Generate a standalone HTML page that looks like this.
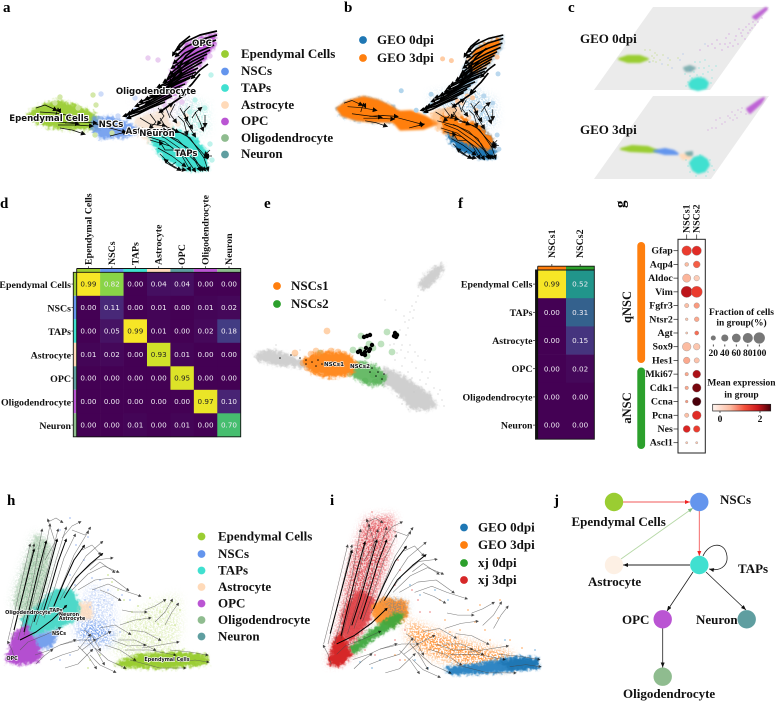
<!DOCTYPE html>
<html lang="en">
<head>
<meta charset="utf-8">
<title>Single-cell trajectory figure</title>
<style>
html,body{margin:0;padding:0;background:#fff;width:777px;height:702px;overflow:hidden}
svg{display:block;filter:blur(.35px)}
text{font-family:"Liberation Serif",serif;font-weight:bold;fill:#111}
.panel{font-size:15px;fill:#000}
.leg{font-size:13px}
.tick{font-size:9.9px}
.small{font-size:9.5px}
.cl{font-family:"DejaVu Sans",sans-serif;font-weight:bold;font-size:8.6px;text-anchor:middle;stroke:#fff;stroke-width:2px;paint-order:stroke;fill:#111}
.cs{font-family:"DejaVu Sans",sans-serif;font-weight:bold;font-size:4.9px;text-anchor:middle;stroke:#fff;stroke-width:1.2px;paint-order:stroke;fill:#111}
.val{font-family:"DejaVu Sans",sans-serif;font-weight:normal;font-size:7.2px;text-anchor:middle}
</style>
</head>
<body>
<svg id="figure" xmlns="http://www.w3.org/2000/svg" width="777" height="702" viewBox="0 0 777 702">
<defs>
<filter id="b1" x="-50%" y="-100%" width="200%" height="300%"><feGaussianBlur stdDeviation="1"/></filter>
<filter id="b2" x="-50%" y="-100%" width="200%" height="300%"><feGaussianBlur stdDeviation="2"/></filter>
<filter id="rough" x="-50%" y="-100%" width="200%" height="300%" color-interpolation-filters="sRGB">
<feGaussianBlur in="SourceGraphic" stdDeviation="1.4" result="soft"/>
<feTurbulence type="fractalNoise" baseFrequency=".28" numOctaves="2" seed="7" result="noise"/>
<feDisplacementMap in="soft" in2="noise" scale="7" xChannelSelector="R" yChannelSelector="G"/>
</filter>
<filter id="speck" x="-50%" y="-100%" width="200%" height="300%" color-interpolation-filters="sRGB">
<feGaussianBlur in="SourceGraphic" stdDeviation="5" result="soft"/>
<feTurbulence type="fractalNoise" baseFrequency=".6" numOctaves="2" seed="3" result="noise"/>
<feColorMatrix in="noise" type="matrix" values="0 0 0 0 0  0 0 0 0 0  0 0 0 0 0  7 0 0 0 -3" result="mask"/>
<feComposite in="soft" in2="mask" operator="in"/>
<feGaussianBlur stdDeviation=".35"/>
</filter>
<marker id="ah" markerUnits="userSpaceOnUse" markerWidth="7" markerHeight="7" refX="3" refY="2.5" orient="auto"><path d="M0 0L5 2.5L0 5Z" fill="#000"/></marker>
<marker id="ahs" markerUnits="userSpaceOnUse" markerWidth="5" markerHeight="5" refX="1.5" refY="1.6" orient="auto"><path d="M0 0L3.2 1.6L0 3.2Z" fill="#000"/></marker>
<marker id="ahr" markerUnits="userSpaceOnUse" markerWidth="6" markerHeight="6" refX="5" refY="2" orient="auto"><path d="M0 0L5 2L0 4Z" fill="#e22"/></marker>
<marker id="ahg" markerUnits="userSpaceOnUse" markerWidth="6" markerHeight="6" refX="5" refY="2" orient="auto"><path d="M0 0L5 2L0 4Z" fill="#7cb87c"/></marker>
<marker id="ahk" markerUnits="userSpaceOnUse" markerWidth="6" markerHeight="6" refX="5" refY="2" orient="auto"><path d="M0 0L5 2L0 4Z" fill="#111"/></marker>
<linearGradient id="redsGrad" x1="0" x2="1" y1="0" y2="0">
<stop offset="0" stop-color="#fff5f0"/><stop offset=".3" stop-color="#fcbba1"/><stop offset=".55" stop-color="#f4503a"/><stop offset=".78" stop-color="#cb181d"/><stop offset="1" stop-color="#4a000a"/>
</linearGradient>
</defs>

<g id="plots"></g>

<g>
<text class="panel" x="3" y="12">a</text>
<text class="panel" x="344" y="12">b</text>
<text class="panel" x="568" y="12">c</text>
<text class="panel" x="0" y="208">d</text>
<text class="panel" x="264" y="208">e</text>
<text class="panel" x="458" y="208">f</text>
<text class="panel" transform="translate(625,208) rotate(-90)">g</text>
<text class="panel" x="7" y="505">h</text>
<text class="panel" x="330" y="505">i</text>
<text class="panel" x="554" y="505">j</text>
</g>

<g>
<g><circle cx="225" cy="54" r="3.9" fill="#9acd32"/><text class="leg" x="241" y="58">Ependymal Cells</text></g>
<g><circle cx="225" cy="71.5" r="3.9" fill="#6495ed"/><text class="leg" x="241" y="75">NSCs</text></g>
<g><circle cx="225" cy="88" r="3.9" fill="#40e0d0"/><text class="leg" x="241" y="92">TAPs</text></g>
<g><circle cx="225" cy="105" r="3.9" fill="#ffdab9"/><text class="leg" x="241" y="109">Astrocyte</text></g>
<g><circle cx="225" cy="121.5" r="3.9" fill="#ba55d3"/><text class="leg" x="241" y="125">OPC</text></g>
<g><circle cx="225" cy="138" r="3.9" fill="#8fbc8f"/><text class="leg" x="241" y="142">Oligodendrocyte</text></g>
<g><circle cx="225" cy="154.5" r="3.9" fill="#5f9ea0"/><text class="leg" x="241" y="158">Neuron</text></g>
</g>

<g>
<g><circle cx="363" cy="40" r="3.9" fill="#1f77b4"/><text class="leg" x="377" y="44">GEO 0dpi</text></g>
<g><circle cx="363" cy="58" r="3.9" fill="#ff7f0e"/><text class="leg" x="377" y="62">GEO 3dpi</text></g>
</g>

<text class="leg" x="580" y="43">GEO 0dpi</text>
<text class="leg" x="580" y="134">GEO 3dpi</text>

<g>
<g><circle cx="277" cy="286" r="3.9" fill="#ff7f0e"/><text class="leg" x="291" y="290">NSCs1</text></g>
<g><circle cx="277" cy="304" r="3.9" fill="#2ca02c"/><text class="leg" x="291" y="308">NSCs2</text></g>
</g>

<g>
<g><circle cx="201.5" cy="536.5" r="3.9" fill="#9acd32"/><text class="leg" x="218" y="540.5">Ependymal Cells</text></g>
<g><circle cx="201.5" cy="554" r="3.9" fill="#6495ed"/><text class="leg" x="218" y="558">NSCs</text></g>
<g><circle cx="201.5" cy="570.5" r="3.9" fill="#40e0d0"/><text class="leg" x="218" y="574.5">TAPs</text></g>
<g><circle cx="201.5" cy="587" r="3.9" fill="#ffdab9"/><text class="leg" x="218" y="591">Astrocyte</text></g>
<g><circle cx="201.5" cy="603.5" r="3.9" fill="#ba55d3"/><text class="leg" x="218" y="607.5">OPC</text></g>
<g><circle cx="201.5" cy="620" r="3.9" fill="#8fbc8f"/><text class="leg" x="218" y="624">Oligodendrocyte</text></g>
<g><circle cx="201.5" cy="636.5" r="3.9" fill="#5f9ea0"/><text class="leg" x="218" y="640.5">Neuron</text></g>
</g>

<g>
<g><circle cx="464" cy="527.5" r="3.9" fill="#1f77b4"/><text class="leg" x="478" y="531.5">GEO 0dpi</text></g>
<g><circle cx="464" cy="545" r="3.9" fill="#ff7f0e"/><text class="leg" x="478" y="549">GEO 3dpi</text></g>
<g><circle cx="464" cy="563" r="3.9" fill="#2ca02c"/><text class="leg" x="478" y="567">xj 0dpi</text></g>
<g><circle cx="464" cy="580" r="3.9" fill="#d62728"/><text class="leg" x="478" y="584">xj 3dpi</text></g>
</g>

<g>
<text class="cl" x="49" y="121">Ependymal Cells</text>
<text class="cl" x="111" y="127">NSCs</text>
<text class="cl" x="149" y="134">Astrocyte</text>
<text class="cl" x="157" y="136">Neuron</text>
<text class="cl" x="186" y="156">TAPs</text>
<text class="cl" x="156" y="94">Oligodendrocyte</text>
<text class="cl" x="202" y="46">OPC</text>
</g>

<g>
<text class="cs" style="font-size:5.6px" x="334" y="366">NSCs1</text>
<text class="cs" style="font-size:5.6px" x="360" y="368">NSCs2</text>
</g>

<g>
<text class="cs" x="28" y="614">Oligodendrocyte</text>
<text class="cs" x="56" y="612">TAPs</text>
<text class="cs" x="69" y="616">Neuron</text>
<text class="cs" x="72" y="620">Astrocyte</text>
<text class="cs" x="59" y="635">NSCs</text>
<text class="cs" x="12" y="660">OPC</text>
<text class="cs" x="167" y="661">Ependymal Cells</text>
</g>

<g>
<rect x="637.3" y="242" width="7.8" height="121" rx="3.9" fill="#ff7f0e"/>
<rect x="637.3" y="367.5" width="7.8" height="81.5" rx="3.9" fill="#2ca02c"/>
<text font-size="12.5" text-anchor="middle" transform="translate(631,307) rotate(-90)">qNSC</text>
<text font-size="12.5" text-anchor="middle" transform="translate(631,408) rotate(-90)">aNSC</text>
<text class="small" x="741.5" y="315" text-anchor="middle">Fraction of cells</text>
<text class="small" x="741.5" y="325.5" text-anchor="middle">in group(%)</text>
<text class="small" x="741.5" y="385.5" text-anchor="middle">Mean expression</text>
<text class="small" x="741.5" y="397.5" text-anchor="middle">in group</text>
<rect x="712.7" y="404.3" width="58" height="6.7" fill="url(#redsGrad)" stroke="#222" stroke-width=".7"/>
<line x1="720" x2="720" y1="411" y2="413" stroke="#222" stroke-width=".7"/>
<line x1="760" x2="760" y1="411" y2="413" stroke="#222" stroke-width=".7"/>
<text class="small" x="720" y="422" text-anchor="middle">0</text>
<text class="small" x="760" y="422" text-anchor="middle">2</text>
</g>

<g>
<line x1="623" y1="502" x2="690" y2="502" stroke="#f25a5a" stroke-width=".9" marker-end="url(#ahr)"/>
<line x1="699.3" y1="511" x2="699.3" y2="556" stroke="#f25a5a" stroke-width=".9" marker-end="url(#ahr)"/>
<line x1="621" y1="559" x2="693" y2="508" stroke="#b6d8a6" stroke-width=".9" marker-end="url(#ahg)"/>
<line x1="690" y1="565" x2="623" y2="565" stroke="#222" stroke-width=".9" marker-end="url(#ahk)"/>
<line x1="693" y1="572" x2="667" y2="611" stroke="#222" stroke-width=".8" marker-end="url(#ahk)"/>
<line x1="706" y1="572" x2="746" y2="610" stroke="#222" stroke-width=".8" marker-end="url(#ahk)"/>
<line x1="662.7" y1="628" x2="662.7" y2="667.5" stroke="#222" stroke-width=".8" marker-end="url(#ahk)"/>
<path d="M703 556C708 544 722 541 726 552C730 564 722 572 709 569" fill="none" stroke="#222" stroke-width=".8" marker-end="url(#ahk)"/>
<circle cx="614" cy="502" r="9.2" fill="#9acd32"/>
<circle cx="699.3" cy="502" r="9.2" fill="#6495ed"/>
<circle cx="614" cy="565" r="9.2" fill="#fdf0e4"/>
<circle cx="699.3" cy="565" r="9.2" fill="#40e0d0"/>
<circle cx="662.7" cy="619.3" r="9.2" fill="#ba55d3"/>
<circle cx="746.7" cy="619.3" r="9.2" fill="#5f9ea0"/>
<circle cx="662.7" cy="676.7" r="9.2" fill="#8fbc8f"/>
<text class="leg" x="571.5" y="526">Ependymal Cells</text>
<text class="leg" x="720" y="504">NSCs</text>
<text class="leg" x="588" y="586">Astrocyte</text>
<text class="leg" x="738" y="573">TAPs</text>
<text class="leg" x="622" y="624">OPC</text>
<text class="leg" x="696" y="624">Neuron</text>
<text class="leg" x="623" y="698">Oligodendrocyte</text>
</g>
</svg>

<script>
/* ---------- heatmap data ---------- */
const cellTypes = ['Ependymal Cells','NSCs','TAPs','Astrocyte','OPC','Oligodendrocyte','Neuron'];
const confusionD = [
 [0.99,0.82,0.00,0.04,0.04,0.00,0.00],
 [0.00,0.11,0.00,0.01,0.00,0.01,0.02],
 [0.00,0.05,0.99,0.01,0.00,0.02,0.18],
 [0.01,0.02,0.00,0.93,0.01,0.00,0.00],
 [0.00,0.00,0.00,0.00,0.95,0.00,0.00],
 [0.00,0.00,0.00,0.00,0.00,0.97,0.10],
 [0.00,0.00,0.01,0.00,0.01,0.00,0.70]
];
const stripColorsD = ['#9acd32','#6495ed','#40e0d0','#ffdab9','#5f9ea0','#ba55d3','#8fbc8f'];
const rowsF = ['Ependymal Cells','TAPs','Astrocyte','OPC','Oligodendrocyte','Neuron'];
const colsF = ['NSCs1','NSCs2'];
const confusionF = [[0.99,0.52],[0.00,0.31],[0.00,0.15],[0.00,0.02],[0.00,0.00],[0.00,0.00]];

/* ---------- dot plot data ---------- */
const genes = ['Gfap','Aqp4','Aldoc','Vim','Fgfr3','Ntsr2','Agt','Sox9','Hes1','Mki67','Cdk1','Ccna','Pcna','Nes','Ascl1'];
const fractionNSCs1 = [75,12,55,100,15,6,4,60,35,10,10,6,15,40,4];
const fractionNSCs2 = [70,38,25,100,25,18,14,35,22,50,60,60,62,35,4];
const expressionNSCs1 = [1.3,0.35,0.4,1.9,0.3,0.2,0.2,0.35,0.5,0.5,0.5,0.6,0.3,1.6,0.2];
const expressionNSCs2 = [1.5,1.0,0.1,1.3,0.6,0.5,0.9,0.2,0.25,2.0,2.3,2.6,1.5,1.3,0.2];
const sizeLegendValues = [20,40,60,80,100];

/* ---------- embedding outlines (UMAP units of panels a/b) ---------- */
const cloudEpendymal = [[28,114],[40,106],[58,101],[75,105],[92,113],[102,122],[97,129],[70,129],[50,127],[34,122]];
const cloudNSC = [[92,118],[112,117],[128,123],[142,131],[126,137],[100,138],[92,129]];
const cloudAstro = [[135,118],[165,112],[172,128],[150,142],[138,134]];
const cloudTAP = [[150,136],[172,130],[193,136],[205,150],[208,170],[190,170],[165,160],[155,148]];
const cloudTAPWisp = [[182,104],[205,104],[207,130],[190,135],[180,120]];
const cloudOPC = [[215,33],[215,45],[204,60],[190,76],[175,94],[160,101],[167,85],[176,62],[186,44]];
const cloudOligo = [[135,100],[185,92],[195,106],[180,120],[160,118],[140,112]];
const cloudTAPOrange = [[148,122],[174,126],[192,136],[205,150],[202,160],[182,156],[160,146],[148,136]];
const cloudOPCOrange = [[212,35],[212,44],[200,62],[188,72],[178,70],[184,50],[194,42]];
const sparseOPC = [[148,58],[158,60],[178,58],[210,56],[195,66],[176,100],[182,102],[165,106]];
const sparseGreen = [[60,97],[93,95],[96,105],[78,108],[55,103],[95,135],[112,133]];
const sparseBlue = [[101,94],[135,98],[128,118],[118,116],[135,110]];
const sparseTeal = [[211,75],[195,100],[205,108],[210,144],[212,160],[160,155],[190,112],[200,125]];
const sparsePeach = [[170,108],[178,124],[165,115],[152,120],[168,128],[186,116]];
const aHeavyStreams = [
 [[217,31],[200,35],[185,42],[177,50]],[[217,35],[200,40],[186,47],[176,56]],[[216,40],[200,46],[185,53],[174,63]],
 [[214,45],[198,52],[183,60],[172,68]],[[210,50],[195,57],[181,65],[170,74]],[[207,54],[193,61],[180,69],[168,78]],
 [[204,58],[190,66],[176,74],[164,82]],[[202,62],[188,70],[172,80],[158,87]],[[198,68],[183,75],[168,84],[154,91]],
 [[196,72],[181,78],[166,88],[151,95]],[[192,76],[178,82],[162,92],[146,99]],[[190,78],[175,85],[158,95],[140,102]],
 [[185,84],[170,90],[154,99],[136,106]],[[180,88],[165,95],[150,103],[131,112]],[[176,92],[160,100],[145,107],[128,114]],
 [[172,96],[156,104],[141,111],[124,116]],[[165,102],[150,108],[138,114],[128,118]],[[190,36],[180,44],[173,55]],
 [[198,46],[186,56],[178,68]],[[190,60],[180,70],[170,82]],[[182,72],[170,84],[160,94]],[[174,84],[160,94],[146,104]],
 [[208,64],[200,70],[192,78]],[[200,74],[192,84],[180,96]],[[186,94],[174,102],[160,112]]
];
const aThinStreams = [
 [[36,108],[45,105],[56,110]],[[55,118],[58,108],[60,112]],[[40,112],[55,113],[72,116]],[[45,120],[60,122],[78,124]],
 [[58,125],[75,125],[92,126]],[[65,123],[80,122],[96,123]],[[60,128],[72,130],[84,134]],[[95,124],[110,128],[125,132]],[[110,136],[118,134],[126,132]],
 [[150,132],[165,138],[185,152],[205,170]],[[142,128],[165,134],[188,148],[200,170]],[[150,140],[170,146],[186,158],[195,171]],
 [[146,136],[165,142],[182,156],[190,170]],[[158,148],[172,156],[185,166]],[[160,154],[170,164],[180,170]],[[166,128],[185,134],[198,148],[207,158]],
 [[172,128],[190,138],[204,158],[208,170]],[[160,132],[178,140],[192,154],[202,170]],[[165,162],[175,168],[185,170]],
 [[185,120],[190,128],[195,136]],[[178,116],[184,122],[187,134]],[[195,112],[200,122],[203,130]],[[170,118],[166,108],[172,104]],
 [[190,106],[184,112],[187,120]],[[205,115],[205,126]],[[160,118],[165,126],[178,132]],[[210,150],[205,155]],[[212,156],[206,156]],
 [[175,150],[165,150],[160,142]],[[176,162],[172,165],[165,160]],[[150,114],[156,122],[150,128]],[[158,108],[164,116],[158,124]],
 [[175,104],[170,114],[176,122]],[[192,118],[196,112],[201,108]],[[140,118],[150,124],[165,126]],[[180,108],[186,118],[192,128]]
];

/* panel c points, plane pixels are data units of the isometric view */
const planes = [[[653,7],[769,7],[710,90],[594,90]],[[653,96],[769,96],[711,179],[594,179]]];
const cClouds0 = [
 {c:'#9acd32',p:[[619,59],[628,56],[640,56],[648,59],[640,62],[628,62]],o:1},
 {c:'#40e0d0',p:[[689,84],[692,80],[698,78],[704,79],[708,83],[706,88],[698,90],[691,88]],o:1},
 {c:'#5f9ea0',p:[[684,68],[690,66],[695,68],[691,71],[686,71]],o:.75},
 {c:'#ba55d3',p:[[753,17],[766,8],[767,9],[756,19]],o:.9}
];
const cPts0Purple = [[700,50],[708,46],[715,48],[720,44],[722,50],[725,44],[728,47],[735,40],[738,44],[742,36],[745,39],[748,33],[730,43],[752,28],[755,25],[750,30],[741,33],[733,46],[736,36],[758,22],[762,18],[746,27],[717,40],[729,34],[712,44],[726,38],[743,30],[739,29],[749,24],[753,22]];
const cPts0Teal = [[705,60],[690,76],[688,82],[708,72],[712,70],[699,68],[695,62],[703,74],[712,78],[685,74],[694,72],[700,62],[716,66],[709,66],[704,68],[697,75],[701,77],[692,78],[711,83],[686,86]];
const cPts0Green = [[650,50],[655,53],[654,58],[656,62],[660,60],[663,55],[670,60],[678,58],[645,50],[668,65],[652,56],[649,62],[657,55],[653,61]];
const cPts0Blue = [[650,62],[662,64],[672,68],[668,58],[680,60],[683,54],[705,44],[690,70]];
const cClouds3 = [
 {c:'#9acd32',p:[[621,149],[632,146],[648,147],[658,151],[650,152],[630,151]],o:1},
 {c:'#6495ed',p:[[654,151],[665,149],[674,151],[678,154],[665,154]],o:1},
 {c:'#ffdab9',p:[[680,155],[690,154],[691,158],[683,159]],o:1},
 {c:'#5f9ea0',p:[[686,153],[692,152],[692,155],[688,155]],o:.8},
 {c:'#40e0d0',p:[[690,163],[694,158],[701,156],[707,160],[709,165],[705,171],[698,173],[693,170]],o:1},
 {c:'#ba55d3',p:[[747,109],[760,100],[764,98],[761,103],[750,113]],o:.9}
];
const cPts3Purple = [[716,120],[720,118],[725,122],[728,116],[732,112],[735,115],[738,110],[742,108],[746,114],[730,118],[722,124],[716,128],[737,118],[741,112],[733,120],[708,130],[712,128]];
const cPts3Teal = [[686,160],[688,166],[710,160],[712,166],[706,176],[696,176],[714,170],[700,155],[690,172],[708,172]];

/* panel e grey background and NSC subsets */
const eGreyClouds = [
 [[255,355],[268,350],[285,354],[300,360],[298,366],[278,365],[260,361]],
 [[296,361],[330,363],[330,369],[298,367]],
 [[385,368],[400,375],[415,385],[430,395],[436,406],[426,410],[410,408],[403,398],[392,388],[378,380]],
 [[419,285],[424,277],[434,268],[443,265],[442,272],[434,282],[425,289]]
];
const eSparseGrey = [[400,330],[405,322],[410,312],[412,306],[416,302],[404,316],[398,338],[394,344],[408,328],[413,318],[418,296],[390,345],[402,345],[410,345],[415,352],[425,360],[416,368],[405,358],[430,372],[385,300],[396,310],[420,380],[440,390],[442,400],[402,366],[412,378],[395,360],[408,372],[276,345],[300,350],[414,310],[409,320],[406,335],[421,290],[397,353],[401,350],[422,372],[426,384],[434,388],[438,394],[412,362],[418,356],[408,352],[400,372],[428,378],[414,392],[397,396],[402,404],[444,406]];
const eOrangeCloud = [[303,360],[315,354],[332,352],[350,355],[357,366],[350,374],[330,377],[312,373]];
const eGreenCloud = [[345,368],[360,362],[375,366],[386,376],[382,384],[368,385],[355,377]];
const eOrangeCircles = [[327,331],[295,353],[311,354],[321,353],[338,352],[322,372],[345,373],[307,368],[316,351],[331,351],[344,354],[303,363]];
const eGreenCircles = [[361,336],[387,332],[396,335],[369,344],[381,344],[353,350],[392,352],[320,353],[361,350],[367,356],[373,348],[375,382],[383,379],[350,374],[373,375],[365,381]];
const eBlackClumps = [[367,336],[370,335],[364,337],[395,333],[397,335],[396,337],[394,336],[360,351],[365,352],[369,351],[365,355],[370,349],[372,345],[366,348],[362,354],[358,352]];
const eStreakMarks = [[300,358],[306,360],[312,362],[318,360],[322,364],[316,366],[306,364],[326,365],[332,362],[372,368],[378,372],[384,374],[376,376],[370,372],[382,379],[280,358],[291,355]];

/* embedding outlines (panel h/i units) */
const hEpendymal = [[115,664],[140,655],[180,652],[207,656],[207,664],[167,668],[128,667]];
const hEpFan = [[112,650],[128,620],[150,605],[178,596],[180,630],[172,652],[130,660]];
const hNSCsparse = [[75,622],[90,585],[112,595],[115,640],[90,645]];
const hNSCright = [[77,630],[92,620],[105,628],[113,640],[98,642],[84,640]];
const hNSCdense = [[25,640],[42,634],[58,632],[52,646],[34,650]];
const hTAP = [[22,620],[38,606],[55,590],[72,590],[80,606],[78,618],[58,628],[38,634],[26,636]];
const hPurple = [[6,661],[14,634],[26,625],[34,640],[42,655],[36,662],[20,664]];
const hOligo = [[14,602],[24,568],[36,535],[50,545],[46,580],[38,606],[26,622]];
const hPeach = [[80,604],[90,603],[92,618],[80,620]];
const iRedColumn = [[330,663],[340,623],[353,557],[367,520],[393,517],[387,557],[373,603],[353,653]];
const iRedDense = [[329,663],[334,642],[341,632],[347,645],[351,655],[340,667]];
const iRedMid = [[344,610],[360,590],[374,600],[368,622],[352,640],[342,634]];
const iOrangeBlob = [[372,606],[385,598],[406,602],[408,616],[392,626],[376,622]];
const iBlueBlob = [[386,603],[398,600],[406,606],[400,614],[388,611]];
const iGreenDiagonal = [[350,648],[372,630],[395,614],[404,614],[398,624],[374,638],[354,654]];
const iOrangeBand = [[408,622],[432,632],[470,645],[510,654],[510,666],[470,666],[430,655],[410,640]];
const iBlueBand = [[445,668],[480,664],[515,657],[538,659],[538,668],[500,672],[452,674]];
const iBlueCore = [[500,663],[520,659],[538,661],[536,667],[510,668]];
const sparseNSCh = [[70,575],[84,560],[85,600],[95,590],[100,580],[104,600],[110,615],[90,607],[114,620],[120,632],[76,545],[88,537],[60,530],[70,518],[108,590],[122,595],[130,600],[80,640],[100,645],[60,660],[70,655],[92,578],[98,605],[112,605],[75,585]];
const sparseGreenH = [[124,600],[138,606],[150,598],[165,600],[172,602],[160,612],[175,625],[140,620],[128,622],[180,610],[108,575],[112,582],[90,660],[88,668],[100,655],[118,590],[132,612],[146,628],[158,624],[168,612]];
const sparseRedI = [[395,585],[400,570],[380,580],[412,590],[420,612],[430,612],[418,600],[405,630],[440,640],[395,640],[375,655],[365,650],[400,660],[388,548],[395,532],[372,512],[398,560],[385,570]];
const sparseOrangeI = [[430,640],[445,620],[468,610],[480,605],[500,600],[498,618],[485,630],[420,650],[510,640],[522,648],[405,660],[395,655],[440,600],[415,625],[460,630],[475,622],[450,632],[490,640]];
const sparseBlueI = [[420,595],[410,585],[400,578],[435,590],[448,600],[505,640],[535,650],[380,660],[360,662],[372,668],[415,660],[428,668]];
const hDarkStreams = [
 [[14,630],[20,606],[27,578],[34,550]],[[24,632],[30,606],[38,572],[46,542]],[[34,622],[42,596],[50,566],[57,540]],
 [[42,616],[50,590],[58,562],[66,540]],[[54,606],[64,582],[74,560],[84,546]],[[64,598],[76,578],[90,564],[102,554]],
 [[20,640],[36,632],[52,620],[66,606]]
];
const hStreams = [
 [[8,640],[14,615],[22,580],[30,545]],[[12,640],[18,615],[26,580],[34,545]],[[18,640],[26,610],[34,575],[42,530]],[[24,635],[32,605],[41,570],[50,525]],
 [[30,630],[39,600],[49,565],[58,530]],[[36,625],[46,595],[56,560],[66,528]],[[44,618],[54,590],[64,558],[75,535]],
 [[52,610],[62,585],[74,555],[88,532]],[[60,600],[72,578],[86,556],[102,542]],[[66,594],[80,574],[96,560],[112,558]],
 [[72,590],[88,574],[104,566],[118,572]],[[78,590],[95,580],[112,578],[128,590]],[[92,590],[108,584],[122,590],[140,596]],
 [[20,650],[28,642],[45,635],[60,628]],[[35,655],[50,650],[60,645],[75,640]],[[50,660],[62,655],[78,650],[90,635]],
 [[60,645],[80,640],[95,640]],[[82,650],[95,640],[110,632]],[[65,668],[78,664],[92,650]],[[120,625],[135,620],[150,618]],
 [[145,610],[155,606],[165,600]],[[155,622],[165,612],[172,600]],[[165,625],[172,612],[178,604]],[[118,640],[135,640],[155,650]],
 [[105,645],[120,650],[135,660]],[[95,648],[108,660],[125,668]],[[90,655],[100,665],[115,672]],[[130,660],[160,668],[185,668]],
 [[125,650],[150,650],[175,655]],[[170,650],[190,652],[207,655]],[[180,662],[195,660],[208,662]],[[122,610],[132,612],[146,612]],
 [[100,628],[115,625],[130,634]],[[112,640],[128,646],[145,645]],[[45,560],[55,542],[48,520]],[[72,530],[85,535],[90,528]],
 [[82,550],[92,545],[100,554]],[[90,570],[100,562],[114,572]],[[100,590],[110,594],[120,600]],[[48,522],[56,518],[62,522]],
 [[62,538],[72,526],[80,522]],[[15,660],[12,650],[8,642]],[[36,664],[44,656],[52,650]],[[84,630],[92,636],[100,650]],
 [[88,640],[96,650],[104,664]],[[78,646],[88,656],[96,668]],[[130,630],[145,632],[160,640]],[[142,648],[160,645],[178,642]]
];

/* ---------- scales and helpers ---------- */
function linear(d0,d1,r0,r1){return function(v){return r0+(v-d0)*(r1-r0)/(d1-d0);};}
const ax = {x:linear(0,100,0,100),y:linear(0,100,0,100)};
const bx = {x:linear(28,217,337,503.3),y:linear(31,170,35,158)};
const hx = {x:linear(0,100,0,100),y:linear(0,100,0,100)};
const ix = {x:linear(12,208,328,540),y:linear(515,672,515,677)};
const root = document.getElementById('plots');
const NS = 'http://www.w3.org/2000/svg';
function make(tag,parent,props){
 const n = document.createElementNS(NS,tag);
 for(const k in props){n.setAttribute(k,props[k]);}
 parent.appendChild(n);
 return n;
}
function group(parent,name){
 const g = make('g',parent,{});
 
 
 return g;
}
function blob(parent,outline,scale,color,opacity,blurId,name){
 const pts = outline.map(function(p){return scale.x(p[0])+','+scale.y(p[1]);}).join(' ');
 const n = make('polygon',parent,{points:pts,fill:color,opacity:opacity,stroke:color,'stroke-width':2,'stroke-linejoin':'round',filter:'url(#'+blurId+')'});
 
 
 return n;
}
function dots(parent,list,scale,radius,color,opacity,name){
 list.forEach(function(p){
  const n = make('circle',parent,{cx:scale.x(p[0]),cy:scale.y(p[1]),r:radius,fill:color,opacity:opacity});
  
  
 });
}
function streams(parent,list,scale,color,width,opacity,marker,name){
 list.forEach(function(line){
  const d = line.map(function(p,i){return (i===0?'M':'L')+scale.x(p[0])+' '+scale.y(p[1]);}).join(' ');
  const n = make('path',parent,{d:d,fill:'none',stroke:color,'stroke-width':width,opacity:opacity,'stroke-linejoin':'round','marker-end':'url(#'+marker+')'});
  
  
 });
}
function label(parent,x,y,txt,cls,anchor,name){
 const n = make('text',parent,{x:x,y:y,class:cls,'text-anchor':anchor});
 n.textContent = txt;
 
 
 return n;
}
function rotLabel(parent,x,y,txt,name){
 const n = make('text',parent,{class:'tick',transform:'translate('+x+','+y+') rotate(-90)'});
 n.textContent = txt;
 
 
 return n;
}
const viridisStops = ['#440154','#482878','#3e4989','#31688e','#26828e','#1f9e89','#35b779','#6ece58','#b5de2b','#fde725'];
function hex2(c){return [parseInt(c.substr(1,2),16),parseInt(c.substr(3,2),16),parseInt(c.substr(5,2),16)];}
function ramp(stops,t){
 t = Math.max(0,Math.min(1,t))*(stops.length-1);
 const i = Math.min(Math.floor(t),stops.length-2), f = t-i;
 const a = hex2(stops[i]), b = hex2(stops[i+1]);
 return 'rgb('+a.map(function(v,k){return Math.round(v+(b[k]-v)*f);}).join(',')+')';
}
const redsStops = ['#fff5f0','#fdd4c2','#fcbba1','#f98a6e','#f4503a','#e32f27','#cb181d','#8f0a12','#4a000a'];
const exprToT = linear(-0.37,2.54,0,1);

/* ---------- panel a ---------- */
const pa = group(root,'panel-a-embedding');
blob(pa,cloudOligo,ax,'#e9dcee',.8,'speck','oligodendrocyte-cloud');
blob(pa,cloudTAPWisp,ax,'#bdeee8',.9,'speck','tap-wisp-cloud');
blob(pa,cloudEpendymal,ax,'#9acd32',.95,'rough','ependymal-cloud');
blob(pa,cloudNSC,ax,'#6495ed',.85,'rough','nsc-cloud');
blob(pa,cloudAstro,ax,'#f6e2d0',.85,'rough','astrocyte-cloud');
blob(pa,cloudTAP,ax,'#40e0d0',1,'rough','tap-cloud');
blob(pa,cloudOPC,ax,'#ba55d3',.95,'rough','opc-cloud');
dots(pa,sparseOPC,ax,2.7,'#e8c9f0',.9,'opc-sparse-cell');
dots(pa,sparseGreen,ax,2.7,'#cfe6a0',.9,'ependymal-sparse-cell');
dots(pa,sparseBlue,ax,2.7,'#c9d8f8',.9,'nsc-sparse-cell');
dots(pa,sparseTeal,ax,2.7,'#b8f2ea',.9,'tap-sparse-cell');
dots(pa,sparsePeach,ax,2.7,'#fbe8d8',.9,'astrocyte-sparse-cell');
streams(pa,aHeavyStreams,ax,'#000',1.7,1,'ah','velocity-stream');
streams(pa,aThinStreams,ax,'#000',.75,.95,'ah','velocity-stream');

/* ---------- panel b ---------- */
const pb = group(root,'panel-b-embedding');
blob(pb,cloudOligo,bx,'#a9cfe8',.85,'speck','geo0-background-cloud');
blob(pb,cloudTAPWisp,bx,'#a9cfe8',.9,'speck','geo0-background-cloud');
blob(pb,cloudEpendymal,bx,'#8fbfe0',.9,'rough','geo0-ependymal-cloud');
blob(pb,cloudTAP,bx,'#1f77b4',1,'rough','geo0-tap-cloud');
blob(pb,cloudOPC,bx,'#78b2da',.7,'rough','geo0-opc-cloud');
blob(pb,cloudEpendymal,bx,'#ff7f0e',1,'b1','geo3-ependymal-cloud');
blob(pb,cloudNSC,bx,'#ff7f0e',1,'b1','geo3-nsc-cloud');
blob(pb,cloudAstro,bx,'#ff9d44',.55,'rough','geo3-astrocyte-cloud');
blob(pb,cloudTAPOrange,bx,'#ff7f0e',1,'rough','geo3-tap-cloud');
blob(pb,cloudOPCOrange,bx,'#ff7f0e',1,'rough','geo3-opc-cloud');
dots(pb,sparseOPC,bx,2.5,'#ffc79a',.9,'geo3-sparse-cell');
dots(pb,sparseBlue,bx,2.5,'#aad0ea',.9,'geo0-sparse-cell');
dots(pb,sparseTeal,bx,2.5,'#b4d4ec',.9,'geo0-sparse-cell');
dots(pb,sparsePeach,bx,2.5,'#ffd6b4',.9,'geo3-sparse-cell');
streams(pb,aHeavyStreams,bx,'#000',1.6,1,'ah','velocity-stream');
streams(pb,aThinStreams,bx,'#000',.7,.95,'ah','velocity-stream');

/* ---------- panel c ---------- */
const pc = group(root,'panel-c-planes');
const cx = {x:linear(0,100,0,100),y:linear(0,100,0,100)};
planes.forEach(function(pl){
 const n = make('polygon',pc,{points:pl.map(function(p){return cx.x(p[0])+','+cx.y(p[1]);}).join(' '),fill:'#ebebeb'});
 
 
});
cClouds0.forEach(function(c){blob(pc,c.p,cx,c.c,c.o,'b1','geo0-cluster');});
cClouds3.forEach(function(c){blob(pc,c.p,cx,c.c,c.o,'b1','geo3-cluster');});
dots(pc,cPts0Purple,cx,.55,'#ba55d3',.85,'geo0-opc-cell');
dots(pc,cPts0Teal,cx,.55,'#40e0d0',.9,'geo0-tap-cell');
dots(pc,cPts0Green,cx,.5,'#9acd32',.9,'geo0-ependymal-cell');
dots(pc,cPts0Blue,cx,.5,'#6495ed',.8,'geo0-nsc-cell');
dots(pc,cPts3Purple,cx,.55,'#ba55d3',.7,'geo3-opc-cell');
dots(pc,cPts3Teal,cx,.55,'#40e0d0',.9,'geo3-tap-cell');

/* ---------- heatmaps ---------- */
function heatmap(name,rows,cols,matrix,x0,y0,cw,ch,textX,topY,stripColors,hasSide,rowDy){
 const g = group(root,name);
 const xs = linear(0,cols.length,x0,x0+cw*cols.length);
 const ys = linear(0,rows.length,y0,y0+ch*rows.length);
 matrix.forEach(function(row,r){
  row.forEach(function(v,c){
   const cell = make('rect',g,{x:xs(c),y:ys(r),width:cw+.3,height:ch+.3,fill:ramp(viridisStops,v)});
   
   
   const t = label(g,xs(c)+cw/2,ys(r)+ch/2+2.6,v.toFixed(2),'val','middle','heatmap-value');
   t.style.fill = v>0.9?'#222':'#f0ecf4';
  });
 });
 stripColors.forEach(function(col,i){
  const s = make('rect',g,{x:xs(i),y:y0-3.6,width:cw,height:3.6,fill:col});
  
  
  if(hasSide){
   const s2 = make('rect',g,{x:x0-3.2,y:ys(i),width:3.2,height:ch,fill:col});
   
   
  }
 });
 const side = hasSide?3.4:2.2;
 const frame = make('path',g,{d:'M'+(x0-side)+' '+(y0)+'H'+(x0+cw*cols.length)+'V'+(y0+ch*rows.length)+'H'+(x0-side)+'Z',fill:'none',stroke:'#111','stroke-width':.9});
 
 
 const frame2 = make('path',g,{d:'M'+x0+' '+(y0-3.8)+'H'+(x0+cw*cols.length)+'V'+y0+'M'+x0+' '+(y0-3.8)+'V'+(y0+ch*rows.length),fill:'none',stroke:'#111','stroke-width':.9});
 
 
 if(!hasSide){
  const edge = make('rect',g,{x:x0-2,y:y0,width:2,height:ch*rows.length,fill:'#111'});
  
  
 }
 rows.forEach(function(t,i){
  label(g,textX,ys(i)+ch/2+rowDy,t,'tick','end','row-label');
  const tk = make('line',g,{x1:textX+.5,x2:textX+2.5,y1:ys(i)+ch/2,y2:ys(i)+ch/2,stroke:'#222','stroke-width':.7});
  
  
 });
 cols.forEach(function(t,i){
  rotLabel(g,xs(i)+cw/2+3,topY,t,'column-label');
  const tk = make('line',g,{x1:xs(i)+cw/2,x2:xs(i)+cw/2,y1:y0-6,y2:y0-3.8,stroke:'#222','stroke-width':.7});
  
  
 });
}
heatmap('panel-d-heatmap',cellTypes,cellTypes,confusionD,76.7,272.3,23.43,23.5,71,265,stripColorsD,true,3.8);
heatmap('panel-f-heatmap',rowsF,colsF,confusionF,537.7,270,28.3,28.2,532.5,258,['#ff7f0e','#2ca02c'],false,3.5);

/* ---------- panel e ---------- */
const pe = group(root,'panel-e-embedding');
const ex = {x:linear(0,100,0,100),y:linear(0,100,0,100)};
eGreyClouds.forEach(function(p){blob(pe,p,ex,'#cfcfcf',1,'rough','background-cell-cloud');});
dots(pe,eSparseGrey,ex,.6,'#c6c6c6',1,'background-cell');
dots(pe,eGreenCircles,ex,3.4,'#2ca02c',.3,'nscs2-cell');
dots(pe,eOrangeCircles,ex,3.4,'#ff7f0e',.35,'nscs1-cell');
blob(pe,eGreenCloud,ex,'#4faf4f',.85,'rough','nscs2-cloud');
blob(pe,eOrangeCloud,ex,'#ff8a20',1,'rough','nscs1-cloud');
dots(pe,eBlackClumps,ex,2.2,'#000',1,'velocity-arrow-clump');
dots(pe,eStreakMarks,ex,.8,'#000',.9,'velocity-arrow-mark');

/* ---------- panel g dot plot ---------- */
const pg = group(root,'panel-g-dotplot');
const gy = linear(0,14,250.7,442.7);
const gxCols = [686.7,696.7];
const sizeScale = function(f){return 5.6*Math.sqrt(f/100);};
const gFrame = make('rect',pg,{x:678,y:239.3,width:27.3,height:213.7,fill:'none',stroke:'#222','stroke-width':1});


genes.forEach(function(g,i){
 label(pg,672.8,gy(i)+3,g,'tick','end','gene-label');
 const tk = make('line',pg,{x1:673.5,x2:678,y1:gy(i),y2:gy(i),stroke:'#222','stroke-width':.7});
 
 
 const d1 = make('circle',pg,{cx:gxCols[0],cy:gy(i),r:sizeScale(fractionNSCs1[i]),fill:ramp(redsStops,exprToT(expressionNSCs1[i])),stroke:'#888','stroke-width':.35});
 
 
 const d2 = make('circle',pg,{cx:gxCols[1],cy:gy(i),r:sizeScale(fractionNSCs2[i]),fill:ramp(redsStops,exprToT(expressionNSCs2[i])),stroke:'#888','stroke-width':.35});
 
 
});
colsF.forEach(function(t,i){
 rotLabel(pg,gxCols[i]+3,233,t,'column-label');
 const tk = make('line',pg,{x1:gxCols[i],x2:gxCols[i],y1:234.5,y2:239,stroke:'#222','stroke-width':.7});
 
 
});
const sizeX = linear(20,100,713.3,759.3);
sizeLegendValues.forEach(function(v){
 const c = make('circle',pg,{cx:sizeX(v),cy:338,r:sizeScale(v),fill:'#777'});
 
 
 const tk = make('line',pg,{x1:sizeX(v),x2:sizeX(v),y1:344.5,y2:346.5,stroke:'#222','stroke-width':.8});
 
 
 label(pg,sizeX(v),356,String(v),'small','middle','size-legend-label');
});

/* ---------- panel h ---------- */
const ph = group(root,'panel-h-embedding');
blob(ph,hEpFan,hx,'#d9ebad',.6,'speck','ependymal-sparse-cloud');
blob(ph,hNSCsparse,hx,'#bccff6',.65,'speck','nsc-sparse-cloud');
blob(ph,hNSCright,hx,'#6f9cec',.85,'speck','nsc-right-cloud');
blob(ph,hOligo,hx,'#cde0cd',.9,'rough','oligodendrocyte-cloud');
blob(ph,hOligo,hx,'#95c09f',.75,'speck','oligodendrocyte-cells');
blob(ph,hTAP,hx,'#45d6c6',.95,'rough','tap-cloud');
blob(ph,hPeach,hx,'#ffdab9',.8,'rough','astrocyte-cloud');
blob(ph,hNSCdense,hx,'#6f9cec',.95,'rough','nsc-cloud');
blob(ph,hPurple,hx,'#b44fd0',1,'rough','opc-cloud');
blob(ph,hEpendymal,hx,'#9acd32',1,'rough','ependymal-cloud');
dots(ph,sparseNSCh,hx,1,'#b9ccf5',.9,'nsc-cell');
dots(ph,sparseGreenH,hx,1,'#d5e8a6',.9,'ependymal-cell');
streams(ph,hStreams,hx,'#555',.55,.75,'ahs','velocity-stream');
streams(ph,hDarkStreams,hx,'#000',1,1,'ahs','velocity-stream-strong');

/* ---------- panel i ---------- */
const pi = group(root,'panel-i-embedding');
const idata = {x:linear(0,100,0,100),y:linear(0,100,0,100)};
blob(pi,iRedColumn,idata,'#f7caca',.8,'b2','xj3-column-haze');
blob(pi,iRedColumn,idata,'#e45a62',.9,'speck','xj3-column-cloud');
blob(pi,iRedMid,idata,'#de3f44',.9,'rough','xj3-mid-cloud');
blob(pi,iOrangeBand,idata,'#ff9a44',1,'speck','geo3-band-cloud');
blob(pi,iBlueBand,idata,'#2f86c4',1,'rough','geo0-band-cloud');
blob(pi,iBlueCore,idata,'#1f77b4',1,'rough','geo0-core-cloud');
blob(pi,iOrangeBlob,idata,'#ff8f2a',.95,'rough','geo3-blob-cloud');
blob(pi,iBlueBlob,idata,'#5a80a0',.7,'speck','geo0-blob-cloud');
blob(pi,iGreenDiagonal,idata,'#3da83d',.95,'rough','xj0-diagonal-cloud');
blob(pi,iRedDense,idata,'#d62728',1,'rough','xj3-dense-cloud');
dots(pi,sparseRedI,idata,1,'#f2a6a6',.9,'xj3-cell');
dots(pi,sparseOrangeI,idata,1,'#ffc08a',.9,'geo3-cell');
dots(pi,sparseBlueI,idata,1,'#a0c8e6',.9,'geo0-cell');
streams(pi,hStreams,ix,'#444',.55,.7,'ahs','velocity-stream');
streams(pi,hDarkStreams,ix,'#000',1,1,'ahs','velocity-stream-strong');
</script>
</body>
</html>
